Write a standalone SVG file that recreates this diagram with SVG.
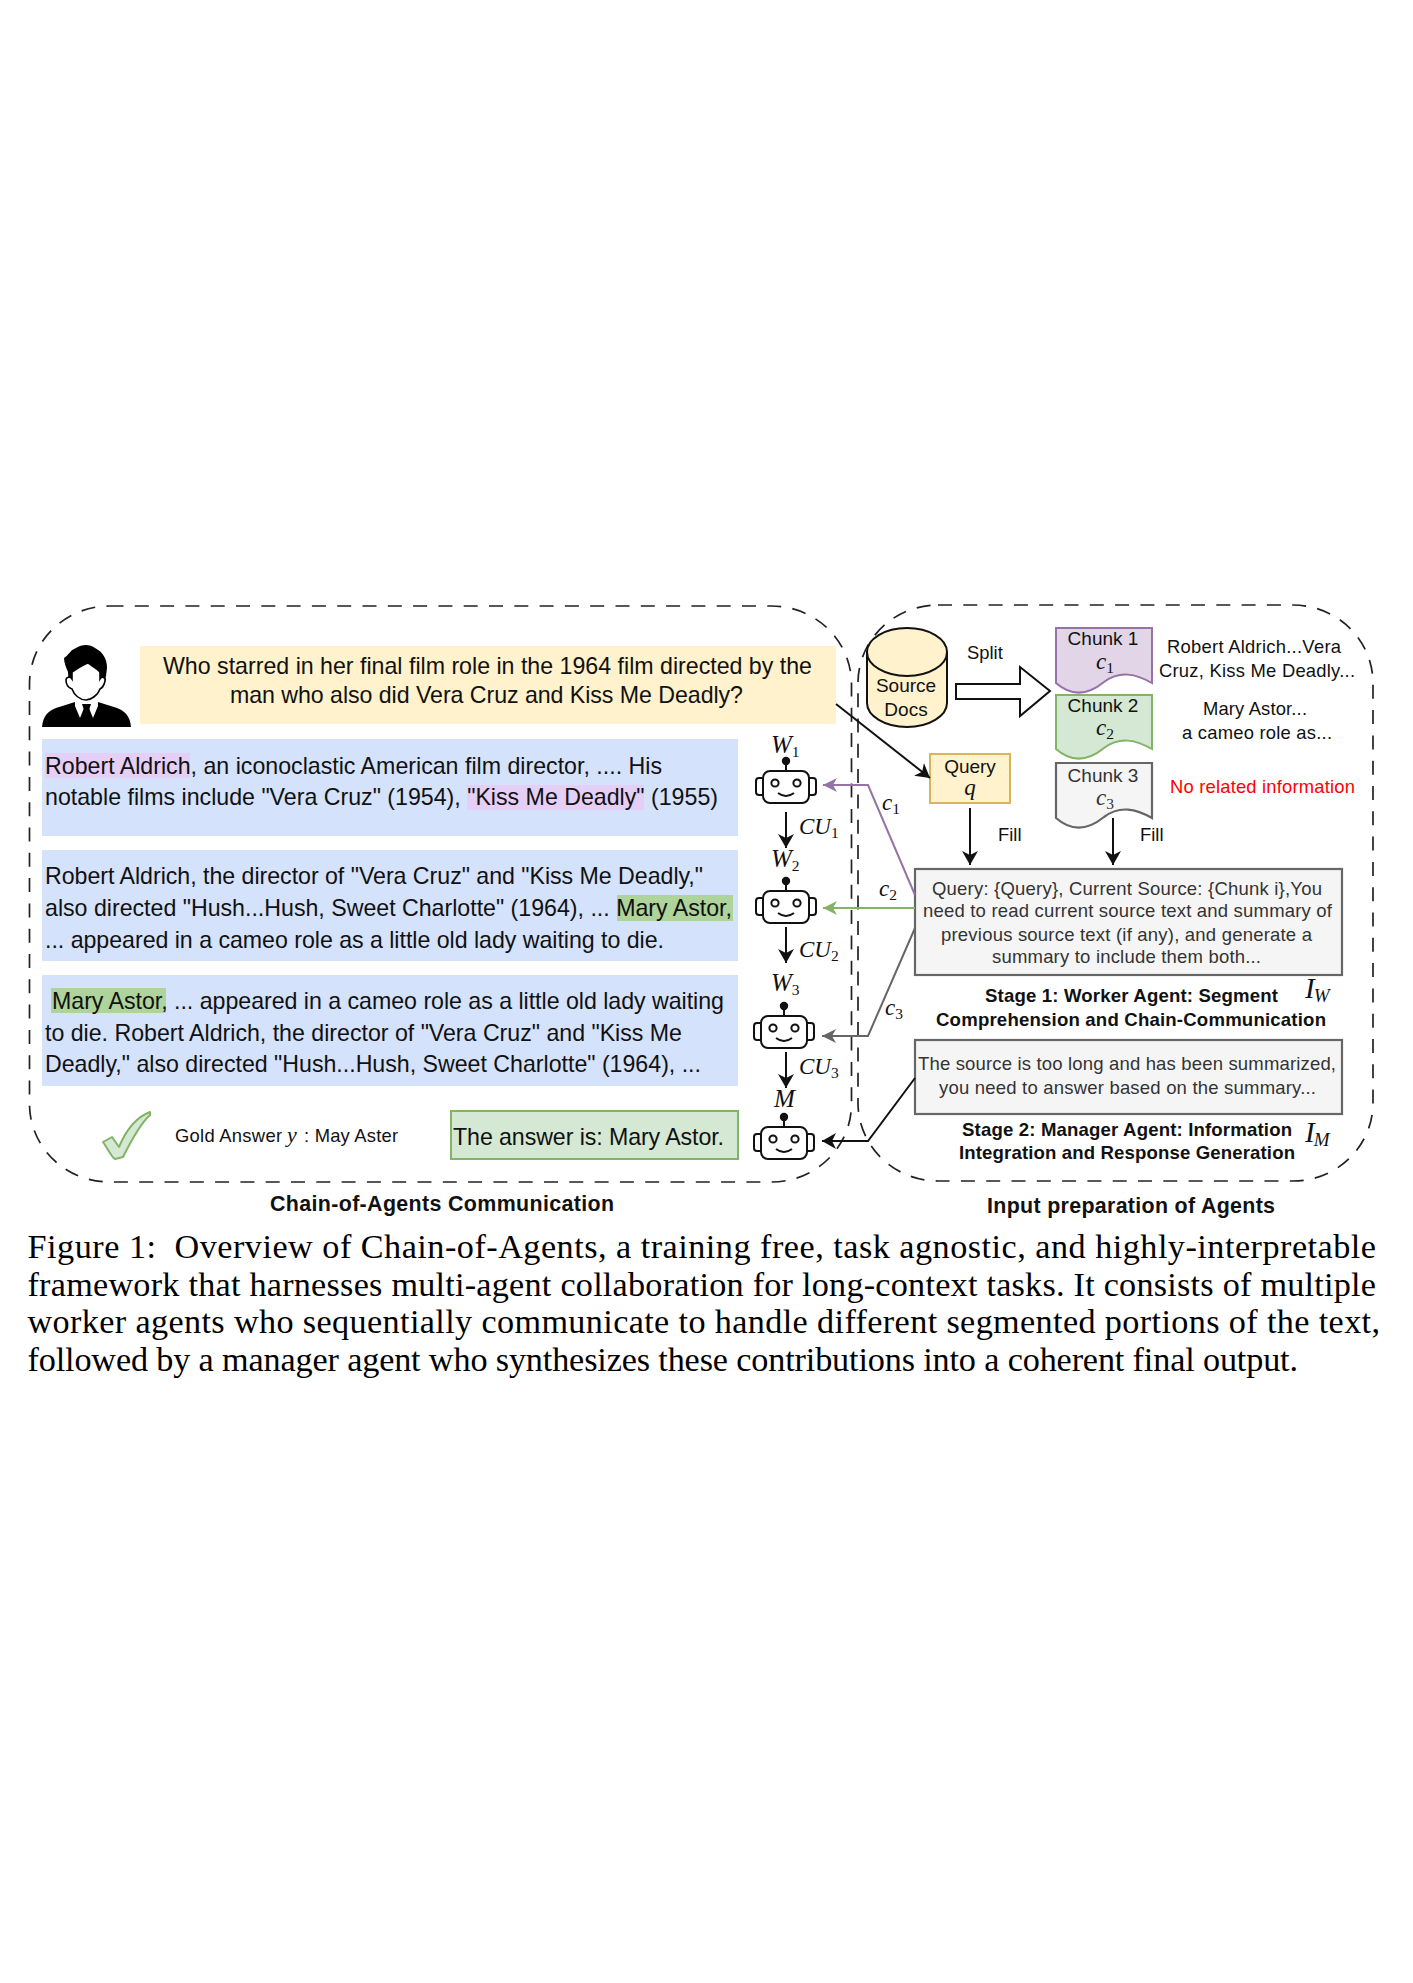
<svg xmlns="http://www.w3.org/2000/svg" xmlns:xlink="http://www.w3.org/1999/xlink" width="1413" height="1983" viewBox="0 0 1413 1983">
<style>
text{font-family:"Liberation Sans",Arial,sans-serif;fill:#111}
.t23{font-size:23.2px}
.t19{font-size:19px}
.t18{font-size:18.5px;fill:#333}
.g{font-size:18.4px}
.b{font-size:18.6px;font-weight:bold}
.h{font-size:21.4px;font-weight:bold}
.m{font-family:"Liberation Serif",serif;font-style:italic;font-size:23px}
.w{font-size:25px}
.m2{font-family:"Liberation Serif",serif;font-style:italic;font-size:29px}
.s{font-family:"Liberation Serif",serif;font-size:15.5px;font-style:normal}
.si{font-family:"Liberation Serif",serif;font-size:19px;font-style:italic}
.y{font-family:"Liberation Serif",serif;font-size:22px;font-style:italic}
.cap{font-family:"Liberation Serif",serif;font-size:34.2px;fill:#000}
.dash{fill:none;stroke:#222;stroke-width:1.7;stroke-dasharray:14 11.3}
.blue{fill:#d4e2fc}
.pur{fill:#e5cff7}
.grn{fill:#aed39b}
.yel{fill:#fff2cc;stroke:#d6b656;stroke-width:2}
.gr{fill:#d5e8d4;stroke:#82b366;stroke-width:2}
.gy{fill:#f5f5f5;stroke:#666;stroke-width:2.2}
.pu{fill:#e1d5e7;stroke:#9673a6;stroke-width:2}
.ln{fill:none;stroke-width:2}
</style>
<defs>
<marker id="ak" markerUnits="userSpaceOnUse" markerWidth="18" markerHeight="18" refX="14" refY="8" orient="auto"><path d="M0 0L14 8L0 16L4 8Z" fill="#111"/></marker>
<marker id="ap" markerUnits="userSpaceOnUse" markerWidth="18" markerHeight="18" refX="14" refY="7" orient="auto"><path d="M0 0L14 7L0 14L4 7Z" fill="#9673a6"/></marker>
<marker id="ag" markerUnits="userSpaceOnUse" markerWidth="18" markerHeight="18" refX="14" refY="7" orient="auto"><path d="M0 0L14 7L0 14L4 7Z" fill="#82b366"/></marker>
<marker id="ay" markerUnits="userSpaceOnUse" markerWidth="18" markerHeight="18" refX="14" refY="7" orient="auto"><path d="M0 0L14 7L0 14L4 7Z" fill="#666"/></marker>
<g id="robot" fill="#fff" stroke="#111" stroke-width="2">
<path d="M0 0V-10" fill="none"/>
<circle cx="0" cy="-10" r="3.2" fill="#111"/>
<rect x="-23" y="0" width="46" height="32" rx="7"/>
<path d="M-23 7H-27Q-30 7 -30 10V21Q-30 24 -27 24H-23M23 7H27Q30 7 30 10V21Q30 24 27 24H23" fill="none"/>
<circle cx="-11" cy="12" r="3.6"/>
<circle cx="11" cy="12" r="3.6"/>
<path d="M-8 22Q0 28 8 22" fill="none"/>
</g>
</defs>
<rect width="1413" height="1983" fill="#fff"/>

<g id="frame-left"><rect class="dash" x="29.5" y="606" width="822" height="576" rx="80" ry="78"/></g>
<g id="frame-right"><rect class="dash" x="858" y="605" width="515" height="576" rx="80" ry="78"/></g>

<g id="person">
<path fill="#000" d="M42 727C43 716 48 711 56 708L75 702H98L117 708C125 711 130 716 131 727Z"/>
<path fill="#000" d="M64 658C69 655 70 650 76 648C82 644 90 644 95 648C103 652 107 659 107 668L106 676L103 686H69L68 672C66 667 64 663 64 658Z"/>
<path fill="#fff" stroke="#000" stroke-width="1.6" d="M72 672C78 668 84 664 88 663C93 667 97 668 100 672L100 679C102 676 106 677 105 681C104 686 102 688 100 689C98 695 91 700 86 700C80 700 74 695 72 689C69 688 66 685 66 680C66 677 70 676 72 679Z"/>
<path fill="#fff" d="M75 699L81 702H91L98 699V706L93 718L89 708H84L80 718L75 706Z"/>
<path fill="#000" d="M82 704H91L89 710L92 719H81L84 710Z"/>
</g>

<g id="question">
<rect x="140" y="646" width="696" height="78" fill="#fff2cc"/>
<text class="t23" x="163" y="674" textLength="649">Who starred in her final film role in the 1964 film directed by the</text>
<text class="t23" x="230" y="703" textLength="513">man who also did Vera Cruz and Kiss Me Deadly?</text>
</g>

<g id="passage-1">
<rect class="blue" x="42" y="739" width="696" height="97"/>
<rect class="pur" x="45" y="753" width="145" height="25"/>
<rect class="pur" x="467" y="785" width="177" height="25"/>
<text class="t23" x="45" y="774" textLength="617">Robert Aldrich, an iconoclastic American film director, .... His</text>
<text class="t23" x="45" y="805" textLength="673">notable films include "Vera Cruz" (1954), "Kiss Me Deadly" (1955)</text>
</g>
<g id="passage-2">
<rect class="blue" x="42" y="850" width="696" height="111"/>
<rect class="grn" x="617" y="895" width="116" height="26"/>
<text class="t23" x="45" y="884" textLength="658">Robert Aldrich, the director of "Vera Cruz" and "Kiss Me Deadly,"</text>
<text class="t23" x="45" y="916" textLength="687">also directed "Hush...Hush, Sweet Charlotte" (1964), ... Mary Astor,</text>
<text class="t23" x="45" y="948" textLength="619">... appeared in a cameo role as a little old lady waiting to die.</text>
</g>
<g id="passage-3">
<rect class="blue" x="42" y="975" width="696" height="111"/>
<rect class="grn" x="51" y="988" width="115" height="25"/>
<text class="t23" x="52" y="1009" textLength="672">Mary Astor, ... appeared in a cameo role as a little old lady waiting</text>
<text class="t23" x="45" y="1041" textLength="637">to die. Robert Aldrich, the director of "Vera Cruz" and "Kiss Me</text>
<text class="t23" x="45" y="1072" textLength="656">Deadly," also directed "Hush...Hush, Sweet Charlotte" (1964), ...</text>
</g>

<g id="gold-answer">
<path d="M103 1142L112 1137L119 1147C124 1135 134 1118 150 1112L150 1115C140 1124 129 1145 123 1157L115 1159C112 1158 108 1149 103 1142Z" fill="#d5e8d4" stroke="#82b366" stroke-width="2" stroke-linejoin="round"/>
<text class="g" y="1142"><tspan x="175" textLength="107">Gold Answer</tspan><tspan x="287" class="y">y</tspan><tspan x="304" textLength="94">: May Aster</tspan></text>
</g>
<g id="answer">
<rect class="gr" x="451" y="1111" width="287" height="48"/>
<text class="t23" x="453" y="1145" textLength="271">The answer is: Mary Astor.</text>
</g>

<g id="worker-1"><use href="#robot" x="786" y="771"/><text class="m w" x="771" y="753">W<tspan class="s" dy="4">1</tspan></text></g>
<g id="worker-2"><use href="#robot" x="786" y="891"/><text class="m w" x="771" y="867">W<tspan class="s" dy="4">2</tspan></text></g>
<g id="worker-3"><use href="#robot" x="784" y="1016"/><text class="m w" x="771" y="991">W<tspan class="s" dy="4">3</tspan></text></g>
<g id="manager"><use href="#robot" x="784" y="1127"/><text class="m w" x="774" y="1107">M</text></g>

<g id="source-docs">
<path d="M867 652V703C867 716 885 727 907 727C929 727 947 716 947 703V652Z" fill="#fff2cc" stroke="#111" stroke-width="2"/>
<ellipse cx="907" cy="652" rx="40" ry="24" fill="#fff2cc" stroke="#111" stroke-width="2"/>
<text class="t19" x="906" y="692" text-anchor="middle">Source</text>
<text class="t19" x="906" y="716" text-anchor="middle">Docs</text>
</g>

<g id="split">
<path d="M956 684H1020V667L1050 691L1020 716V699H956Z" fill="#fff" stroke="#111" stroke-width="2"/>
<text class="g" x="967" y="659">Split</text>
</g>

<g id="chunk-1">
<path class="pu" d="M1056 628H1152V683C1136 674 1120 670 1104 682C1088 695 1072 697 1056 683Z"/>
<text class="t19" x="1103" y="645" text-anchor="middle">Chunk 1</text>
<text class="m" x="1096" y="669">c<tspan class="s" dy="4">1</tspan></text>
<text class="g" x="1167" y="653" textLength="174">Robert Aldrich...Vera</text>
<text class="g" x="1159" y="677" textLength="196">Cruz, Kiss Me Deadly...</text>
</g>
<g id="chunk-2">
<path class="gr" d="M1056 695H1152V749C1136 740 1120 736 1104 748C1088 761 1072 763 1056 749Z"/>
<text class="t19" x="1103" y="712" text-anchor="middle">Chunk 2</text>
<text class="m" x="1096" y="735">c<tspan class="s" dy="4">2</tspan></text>
<text class="g" x="1203" y="715" textLength="104">Mary Astor...</text>
<text class="g" x="1182" y="739" textLength="150">a cameo role as...</text>
</g>
<g id="chunk-3">
<path class="gy" d="M1056 763H1152V818C1136 809 1120 805 1104 817C1088 830 1072 832 1056 818Z"/>
<text class="t19" x="1103" y="782" text-anchor="middle" style="fill:#333">Chunk 3</text>
<text class="m" x="1096" y="805" style="fill:#333">c<tspan class="s" dy="4">3</tspan></text>
<text class="g" x="1170" y="793" textLength="185" style="fill:#f00">No related information</text>
</g>

<g id="query">
<rect class="yel" x="930" y="754" width="80" height="49"/>
<text class="t19" x="970" y="773" text-anchor="middle">Query</text>
<text class="m" x="970" y="795" text-anchor="middle">q</text>
</g>

<g id="worker-prompt">
<rect class="gy" x="915" y="869" width="427" height="106"/>
<text class="t18" x="932" y="895" textLength="390">Query: {Query}, Current Source: {Chunk i},You</text>
<text class="t18" x="923" y="917" textLength="409">need to read current source text and summary of</text>
<text class="t18" x="941" y="941" textLength="371">previous source text (if any), and generate a</text>
<text class="t18" x="992" y="963" textLength="269">summary to include them both...</text>
<text class="b" x="985" y="1002" textLength="293">Stage 1: Worker Agent: Segment</text>
<text class="b" x="936" y="1026" textLength="390">Comprehension and Chain-Communication</text>
<text class="m2" x="1305" y="998">I<tspan class="si" dy="4" dx="-1">W</tspan></text>
</g>
<g id="manager-prompt">
<rect class="gy" x="915" y="1040" width="427" height="74"/>
<text class="t18" x="918" y="1070" textLength="418">The source is too long and has been summarized,</text>
<text class="t18" x="939" y="1094" textLength="377">you need to answer based on the summary...</text>
<text class="b" x="962" y="1136" textLength="330">Stage 2: Manager Agent: Information</text>
<text class="b" x="959" y="1159" textLength="336">Integration and Response Generation</text>
<text class="m2" x="1305" y="1142">I<tspan class="si" dy="4" dx="-1">M</tspan></text>
</g>

<g id="connectors">
<path class="ln" stroke="#111" d="M836 704L930 778" marker-end="url(#ak)"/>
<path class="ln" stroke="#111" d="M970 808V865" marker-end="url(#ak)"/>
<path class="ln" stroke="#111" d="M1113 818V865" marker-end="url(#ak)"/>
<text class="g" x="998" y="841">Fill</text>
<text class="g" x="1140" y="841">Fill</text>
<path class="ln" stroke="#111" d="M786 812V848" marker-end="url(#ak)"/>
<path class="ln" stroke="#111" d="M786 927V963" marker-end="url(#ak)"/>
<path class="ln" stroke="#111" d="M786 1052V1088" marker-end="url(#ak)"/>
<text class="m" x="799" y="834">CU<tspan class="s" dy="4">1</tspan></text>
<text class="m" x="799" y="957">CU<tspan class="s" dy="4">2</tspan></text>
<text class="m" x="799" y="1074">CU<tspan class="s" dy="4">3</tspan></text>
<path class="ln" stroke="#9673a6" d="M915 895L868 785H823" marker-end="url(#ap)"/>
<path class="ln" stroke="#82b366" d="M915 908H823" marker-end="url(#ag)"/>
<path class="ln" stroke="#666" d="M915 928L868 1036H822" marker-end="url(#ay)"/>
<path class="ln" stroke="#111" d="M915 1078L868 1141H822" marker-end="url(#ak)"/>
<text class="m" x="882" y="810">c<tspan class="s" dy="4">1</tspan></text>
<text class="m" x="879" y="896">c<tspan class="s" dy="4">2</tspan></text>
<text class="m" x="885" y="1015">c<tspan class="s" dy="4">3</tspan></text>
</g>

<g id="titles">
<text class="h" x="270" y="1211" textLength="344">Chain-of-Agents Communication</text>
<text class="h" x="987" y="1213" textLength="288">Input preparation of Agents</text>
</g>

<g id="caption">
<text class="cap" y="1258"><tspan x="27.5" textLength="128.5">Figure 1:</tspan> <tspan x="174.5" textLength="1201.5">Overview of Chain-of-Agents, a training free, task agnostic, and highly-interpretable</tspan></text>
<text class="cap" x="27.5" y="1296" textLength="1348.5">framework that harnesses multi-agent collaboration for long-context tasks. It consists of multiple</text>
<text class="cap" x="27.5" y="1333" textLength="1352.5">worker agents who sequentially communicate to handle different segmented portions of the text,</text>
<text class="cap" x="27.5" y="1371" textLength="1270.5">followed by a manager agent who synthesizes these contributions into a coherent final output.</text>
</g>
</svg>
